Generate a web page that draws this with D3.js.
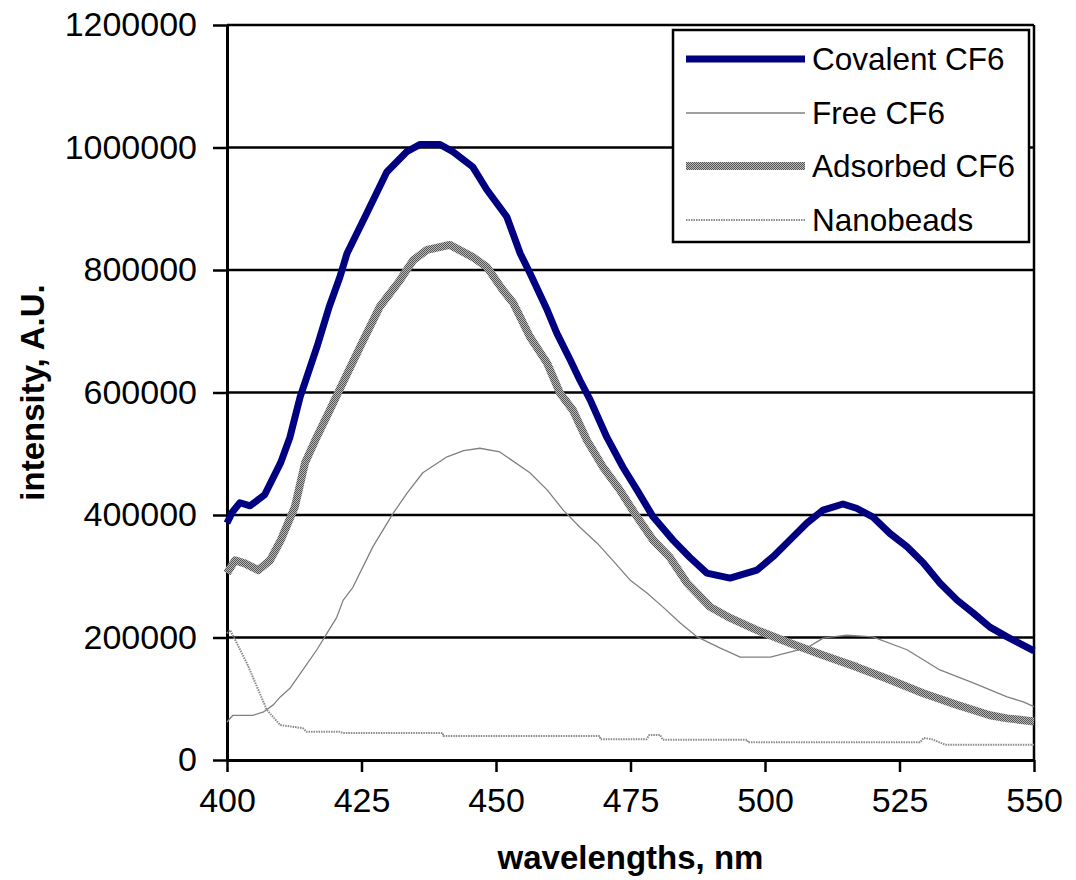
<!DOCTYPE html>
<html>
<head>
<meta charset="utf-8">
<script src="https://cdn.jsdelivr.net/npm/d3@7"></script>
<style>
  html, body { margin: 0; padding: 0; background: #fff; }
  svg { display: block; }
  text { font-family: "Liberation Sans", Arial, sans-serif; fill: #000; }
</style>
</head>
<body>
<svg id="chart" width="1076" height="880"></svg>
<script>
// ---------- data ----------
const xTicks = [400, 425, 450, 475, 500, 525, 550];
const yTicks = [0, 200000, 400000, 600000, 800000, 1000000, 1200000];
const seriesNames = ["Covalent CF6", "Free CF6", "Adsorbed CF6", "Nanobeads"];

const covalentWl = [400, 401, 402.4, 404.3, 407, 410, 411.7, 413.6, 416.7, 419, 421, 422.3, 426, 429.7, 433.4, 435.9, 439.6, 442, 445.7, 448.3, 452, 454.5, 456.3, 459.5, 461.3, 463.8, 465.6, 467.5, 470.6, 473.6, 476.2, 479.2, 482.9, 486, 489.2, 493.5, 498.5, 501.5, 504.6, 507.8, 510.8, 514.5, 517, 520, 523.2, 526.4, 529.4, 532.5, 535.7, 538.7, 541.8, 545, 550];
const covalentVal = [387000, 405000, 420000, 415000, 433000, 486000, 527000, 593000, 674000, 740000, 789000, 827000, 893000, 960000, 993000, 1005000, 1005000, 993000, 968000, 931000, 887000, 827000, 795000, 735000, 697000, 653000, 620000, 588000, 527000, 478000, 441000, 397000, 359000, 331000, 305000, 297000, 310000, 332000, 359000, 387000, 408000, 418000, 411000, 397000, 370000, 348000, 322000, 289000, 261000, 240000, 217000, 201000, 178000];

const freeWl = [400, 401.1, 404.8, 406.7, 408.6, 409.9, 411.7, 414.1, 416.7, 418.6, 420.4, 421.6, 423.4, 427.1, 430.9, 433.5, 436.4, 440.9, 444, 447, 450.7, 456.3, 459.5, 462.5, 465.6, 468.8, 471.7, 474.9, 478, 481, 484.2, 487.4, 491.6, 495.4, 501, 504.6, 507.8, 510.8, 515.2, 520, 526.4, 532.5, 538.7, 545, 548, 550];
const freeVal = [62000, 73000, 73000, 78000, 90000, 103000, 117000, 147000, 180000, 207000, 233000, 261000, 282000, 348000, 403000, 436000, 469000, 495000, 505000, 509000, 503000, 469000, 441000, 408000, 380000, 354000, 326000, 294000, 273000, 250000, 224000, 201000, 183000, 168000, 168000, 176000, 183000, 199000, 204000, 201000, 180000, 147000, 126000, 103000, 95000, 87000];

const adsorbedWl = [400, 401.5, 403.3, 405.8, 408, 410, 412.6, 414.5, 416.4, 419.1, 421, 424.7, 428.4, 432.2, 434.6, 437.2, 441.4, 445.7, 448.3, 451.3, 453.2, 456.3, 459.5, 461.9, 464.3, 466.9, 469.9, 473, 476.2, 479.2, 482.3, 485.5, 489.8, 493.5, 498.5, 504.6, 510.8, 517, 523.2, 529.4, 535.7, 541.8, 545, 550];
const adsorbedVal = [305000, 326000, 321000, 310000, 326000, 359000, 413000, 485000, 522000, 571000, 606000, 674000, 740000, 784000, 816000, 833000, 841000, 821000, 805000, 767000, 746000, 691000, 648000, 599000, 571000, 522000, 478000, 441000, 397000, 359000, 331000, 289000, 250000, 232000, 212000, 191000, 171000, 152000, 131000, 109000, 90000, 73000, 68000, 63000];

const nanoWl = [400, 400.6, 403.7, 405.6, 407.4, 409.9, 414.1, 414.8, 421, 421.6, 440.1, 440.2, 469.3, 469.4, 478, 478.5, 480.5, 481, 496.7, 496.8, 528.8, 529.5, 531, 533.5, 550];
const nanoVal = [207000, 212000, 158000, 119000, 82000, 57000, 52000, 46000, 46000, 44000, 44000, 39000, 39000, 34000, 34000, 41000, 41000, 33000, 33000, 29000, 29000, 36000, 34000, 25000, 25000];

// ---------- layout ----------
const svg = d3.select("#chart");
const mLeft = 227, mRight = 1034, mTop = 25, mBottom = 760;

const x = d3.scaleLinear().domain([400, 550]).range([mLeft, mRight]);
const y = d3.scaleLinear().domain([0, 1200000]).range([mBottom, mTop]);

const defs = svg.append("defs");
// checkered pattern for Adsorbed CF6
const chk = defs.append("pattern").attr("id", "checker")
  .attr("patternUnits", "userSpaceOnUse").attr("width", 2).attr("height", 2);
chk.append("rect").attr("width", 2).attr("height", 2).attr("fill", "#b8b8b8");
chk.append("rect").attr("width", 1).attr("height", 1).attr("fill", "#555");
chk.append("rect").attr("x", 1).attr("y", 1).attr("width", 1).attr("height", 1).attr("fill", "#555");

// gridlines
svg.append("g").selectAll("line").data(yTicks.filter(d => d > 0)).join("line")
  .attr("x1", mLeft).attr("x2", mRight)
  .attr("y1", d => y(d)).attr("y2", d => y(d))
  .attr("stroke", "#000").attr("stroke-width", 2.5);
// right border
svg.append("line").attr("x1", mRight).attr("x2", mRight).attr("y1", mTop).attr("y2", mBottom)
  .attr("stroke", "#000").attr("stroke-width", 2.5);

// axes
const yAxis = svg.append("g").attr("transform", `translate(${mLeft},0)`)
  .call(d3.axisLeft(y).tickValues(yTicks).tickFormat(d3.format("d")).tickSize(14).tickSizeOuter(0).tickPadding(16));
const xAxis = svg.append("g").attr("transform", `translate(0,${mBottom})`)
  .call(d3.axisBottom(x).tickValues(xTicks).tickFormat(d3.format("d")).tickSize(12).tickSizeOuter(0).tickPadding(16));
[yAxis, xAxis].forEach(a => {
  a.select(".domain").attr("stroke", "#000").attr("stroke-width", 3);
  a.selectAll(".tick line").attr("stroke", "#000").attr("stroke-width", 2.5);
  a.selectAll(".tick text").style("font-family", '"Liberation Sans", Arial, sans-serif')
    .style("font-size", "34px").attr("fill", "#000");
});

// axis titles
svg.append("text").attr("x", (mLeft + mRight) / 2).attr("y", 869)
  .attr("text-anchor", "middle").style("font-size", "33px").style("font-weight", "bold")
  .text("wavelengths, nm");
svg.append("text").attr("transform", `translate(44,${(mTop + mBottom) / 2}) rotate(-90)`)
  .attr("text-anchor", "middle").style("font-size", "33px").style("font-weight", "bold")
  .text("intensity, A.U.");

// lines
const line = d3.line().x(d => x(d[0])).y(d => y(d[1]));
const zip = (a, b) => a.map((v, i) => [v, b[i]]);
const styles = [
  { stroke: "#000080", width: 7, dash: null },
  { stroke: "#808080", width: 1.3, dash: null },
  { stroke: "url(#checker)", width: 8, dash: null },
  { stroke: "#8a8a8a", width: 2, dash: "1.5,1" }
];
const seriesData = [zip(covalentWl, covalentVal), zip(freeWl, freeVal), zip(adsorbedWl, adsorbedVal), zip(nanoWl, nanoVal)];
const drawOrder = [3, 1, 2, 0];
drawOrder.forEach(i => {
  svg.append("path").datum(seriesData[i])
    .attr("d", line).attr("fill", "none")
    .attr("stroke", styles[i].stroke).attr("stroke-width", styles[i].width)
    .attr("stroke-linejoin", "round")
    .attr("stroke-dasharray", styles[i].dash);
});

// legend
const lg = svg.append("g");
lg.append("rect").attr("x", 673).attr("y", 30).attr("width", 356).attr("height", 212)
  .attr("fill", "#fff").attr("stroke", "#000").attr("stroke-width", 2.5);
const rowY = [59, 113, 166, 220];
seriesNames.forEach((name, i) => {
  lg.append("line").attr("x1", 686).attr("x2", 805).attr("y1", rowY[i]).attr("y2", rowY[i])
    .attr("stroke", styles[i].stroke).attr("stroke-width", styles[i].width)
    .attr("stroke-dasharray", styles[i].dash);
  lg.append("text").attr("x", 812).attr("y", rowY[i] + 11)
    .style("font-size", "31.5px").text(name);
});
</script>
</body>
</html>
